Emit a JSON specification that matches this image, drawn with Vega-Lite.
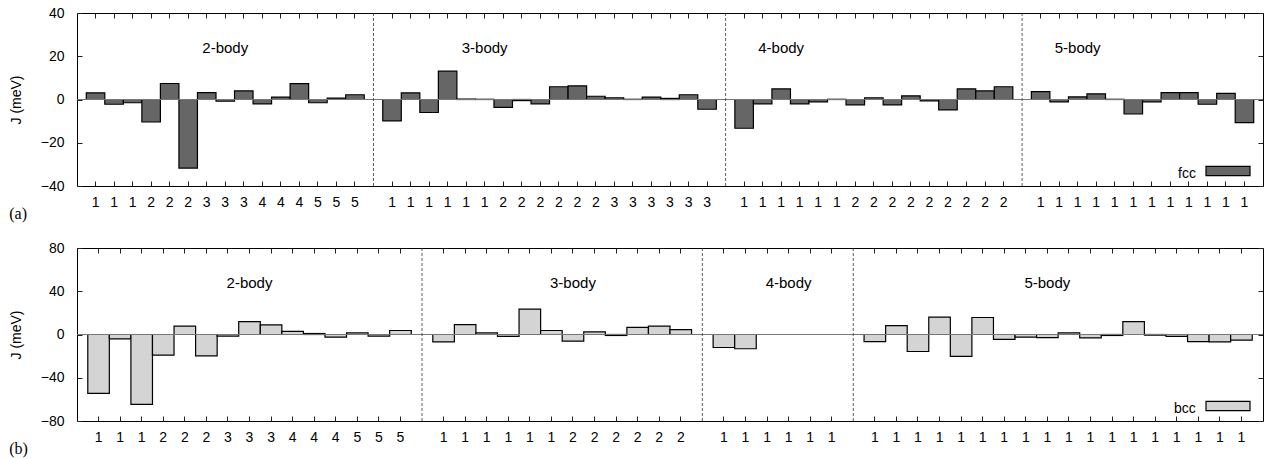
{
  "$schema": "https://vega.github.io/schema/vega-lite/v6.json",
  "padding": {"left": 8, "right": 1, "top": 5, "bottom": 0},
  "spacing": 17,
  "resolve": {"scale": {"color": "independent"}, "legend": {"color": "independent"}},
  "config": {
    "font": "Liberation Sans",
    "view": {"stroke": "black", "strokeWidth": 1},
    "axis": {"labelFontSize": 14, "labelColor": "black", "titleFontSize": 14, "titleFontWeight": "normal", "titleColor": "black", "tickColor": "#222222", "tickWidth": 1, "domain": false, "grid": false, "tickSize": 5, "offset": -5, "titlePadding": 17},
    "axisX": {"labelPadding": 9},
    "axisY": {"labelPadding": 13},
    "legend": {"titleFontSize": 14, "titleFontWeight": "normal", "titleColor": "black"}
  },
  "datasets": {
    "fcc": [
      {"slot":1,"order":1,"group":"2-body","lattice":"fcc","J":3.1},
      {"slot":2,"order":1,"group":"2-body","lattice":"fcc","J":-2.2},
      {"slot":3,"order":1,"group":"2-body","lattice":"fcc","J":-1.5},
      {"slot":4,"order":2,"group":"2-body","lattice":"fcc","J":-10.4},
      {"slot":5,"order":2,"group":"2-body","lattice":"fcc","J":7.4},
      {"slot":6,"order":2,"group":"2-body","lattice":"fcc","J":-31.7},
      {"slot":7,"order":3,"group":"2-body","lattice":"fcc","J":3.2},
      {"slot":8,"order":3,"group":"2-body","lattice":"fcc","J":-0.8},
      {"slot":9,"order":3,"group":"2-body","lattice":"fcc","J":4.0},
      {"slot":10,"order":4,"group":"2-body","lattice":"fcc","J":-2.0},
      {"slot":11,"order":4,"group":"2-body","lattice":"fcc","J":1.1},
      {"slot":12,"order":4,"group":"2-body","lattice":"fcc","J":7.3},
      {"slot":13,"order":5,"group":"2-body","lattice":"fcc","J":-1.5},
      {"slot":14,"order":5,"group":"2-body","lattice":"fcc","J":0.6},
      {"slot":15,"order":5,"group":"2-body","lattice":"fcc","J":2.2},
      {"slot":17,"order":1,"group":"3-body","lattice":"fcc","J":-9.9},
      {"slot":18,"order":1,"group":"3-body","lattice":"fcc","J":3.1},
      {"slot":19,"order":1,"group":"3-body","lattice":"fcc","J":-6.0},
      {"slot":20,"order":1,"group":"3-body","lattice":"fcc","J":13.1},
      {"slot":21,"order":1,"group":"3-body","lattice":"fcc","J":0.2},
      {"slot":22,"order":1,"group":"3-body","lattice":"fcc","J":0.1},
      {"slot":23,"order":2,"group":"3-body","lattice":"fcc","J":-3.6},
      {"slot":24,"order":2,"group":"3-body","lattice":"fcc","J":-0.5},
      {"slot":25,"order":2,"group":"3-body","lattice":"fcc","J":-2.0},
      {"slot":26,"order":2,"group":"3-body","lattice":"fcc","J":5.9},
      {"slot":27,"order":2,"group":"3-body","lattice":"fcc","J":6.3},
      {"slot":28,"order":2,"group":"3-body","lattice":"fcc","J":1.5},
      {"slot":29,"order":3,"group":"3-body","lattice":"fcc","J":0.8},
      {"slot":30,"order":3,"group":"3-body","lattice":"fcc","J":0.1},
      {"slot":31,"order":3,"group":"3-body","lattice":"fcc","J":1.1},
      {"slot":32,"order":3,"group":"3-body","lattice":"fcc","J":0.5},
      {"slot":33,"order":3,"group":"3-body","lattice":"fcc","J":2.2},
      {"slot":34,"order":3,"group":"3-body","lattice":"fcc","J":-4.5},
      {"slot":36,"order":1,"group":"4-body","lattice":"fcc","J":-13.3},
      {"slot":37,"order":1,"group":"4-body","lattice":"fcc","J":-2.0},
      {"slot":38,"order":1,"group":"4-body","lattice":"fcc","J":4.9},
      {"slot":39,"order":1,"group":"4-body","lattice":"fcc","J":-2.0},
      {"slot":40,"order":1,"group":"4-body","lattice":"fcc","J":-1.1},
      {"slot":41,"order":1,"group":"4-body","lattice":"fcc","J":0.1},
      {"slot":42,"order":2,"group":"4-body","lattice":"fcc","J":-2.5},
      {"slot":43,"order":2,"group":"4-body","lattice":"fcc","J":0.8},
      {"slot":44,"order":2,"group":"4-body","lattice":"fcc","J":-2.5},
      {"slot":45,"order":2,"group":"4-body","lattice":"fcc","J":1.7},
      {"slot":46,"order":2,"group":"4-body","lattice":"fcc","J":-0.6},
      {"slot":47,"order":2,"group":"4-body","lattice":"fcc","J":-4.8},
      {"slot":48,"order":2,"group":"4-body","lattice":"fcc","J":4.9},
      {"slot":49,"order":2,"group":"4-body","lattice":"fcc","J":4.0},
      {"slot":50,"order":2,"group":"4-body","lattice":"fcc","J":5.9},
      {"slot":52,"order":1,"group":"5-body","lattice":"fcc","J":3.6},
      {"slot":53,"order":1,"group":"5-body","lattice":"fcc","J":-1.1},
      {"slot":54,"order":1,"group":"5-body","lattice":"fcc","J":1.2},
      {"slot":55,"order":1,"group":"5-body","lattice":"fcc","J":2.6},
      {"slot":56,"order":1,"group":"5-body","lattice":"fcc","J":0.1},
      {"slot":57,"order":1,"group":"5-body","lattice":"fcc","J":-6.7},
      {"slot":58,"order":1,"group":"5-body","lattice":"fcc","J":-1.1},
      {"slot":59,"order":1,"group":"5-body","lattice":"fcc","J":3.2},
      {"slot":60,"order":1,"group":"5-body","lattice":"fcc","J":3.2},
      {"slot":61,"order":1,"group":"5-body","lattice":"fcc","J":-2.2},
      {"slot":62,"order":1,"group":"5-body","lattice":"fcc","J":2.8},
      {"slot":63,"order":1,"group":"5-body","lattice":"fcc","J":-10.7}
    ],
    "bcc": [
      {"slot":1,"order":1,"group":"2-body","lattice":"bcc","J":-54.5},
      {"slot":2,"order":1,"group":"2-body","lattice":"bcc","J":-4.0},
      {"slot":3,"order":1,"group":"2-body","lattice":"bcc","J":-64.6},
      {"slot":4,"order":2,"group":"2-body","lattice":"bcc","J":-19.1},
      {"slot":5,"order":2,"group":"2-body","lattice":"bcc","J":7.7},
      {"slot":6,"order":2,"group":"2-body","lattice":"bcc","J":-19.7},
      {"slot":7,"order":3,"group":"2-body","lattice":"bcc","J":-1.5},
      {"slot":8,"order":3,"group":"2-body","lattice":"bcc","J":12.0},
      {"slot":9,"order":3,"group":"2-body","lattice":"bcc","J":8.9},
      {"slot":10,"order":4,"group":"2-body","lattice":"bcc","J":2.8},
      {"slot":11,"order":4,"group":"2-body","lattice":"bcc","J":0.9},
      {"slot":12,"order":4,"group":"2-body","lattice":"bcc","J":-2.5},
      {"slot":13,"order":5,"group":"2-body","lattice":"bcc","J":1.5},
      {"slot":14,"order":5,"group":"2-body","lattice":"bcc","J":-1.5},
      {"slot":15,"order":5,"group":"2-body","lattice":"bcc","J":3.7},
      {"slot":17,"order":1,"group":"3-body","lattice":"bcc","J":-6.8},
      {"slot":18,"order":1,"group":"3-body","lattice":"bcc","J":9.2},
      {"slot":19,"order":1,"group":"3-body","lattice":"bcc","J":1.5},
      {"slot":20,"order":1,"group":"3-body","lattice":"bcc","J":-1.8},
      {"slot":21,"order":1,"group":"3-body","lattice":"bcc","J":23.4},
      {"slot":22,"order":1,"group":"3-body","lattice":"bcc","J":3.7},
      {"slot":23,"order":2,"group":"3-body","lattice":"bcc","J":-6.2},
      {"slot":24,"order":2,"group":"3-body","lattice":"bcc","J":2.5},
      {"slot":25,"order":2,"group":"3-body","lattice":"bcc","J":-0.9},
      {"slot":26,"order":2,"group":"3-body","lattice":"bcc","J":6.5},
      {"slot":27,"order":2,"group":"3-body","lattice":"bcc","J":7.7},
      {"slot":28,"order":2,"group":"3-body","lattice":"bcc","J":4.6},
      {"slot":30,"order":1,"group":"4-body","lattice":"bcc","J":-12.0},
      {"slot":31,"order":1,"group":"4-body","lattice":"bcc","J":-13.2},
      {"slot":32,"order":1,"group":"4-body","lattice":"bcc","J":0},
      {"slot":33,"order":1,"group":"4-body","lattice":"bcc","J":0},
      {"slot":34,"order":1,"group":"4-body","lattice":"bcc","J":0},
      {"slot":35,"order":1,"group":"4-body","lattice":"bcc","J":0},
      {"slot":37,"order":1,"group":"5-body","lattice":"bcc","J":-6.5},
      {"slot":38,"order":1,"group":"5-body","lattice":"bcc","J":8.3},
      {"slot":39,"order":1,"group":"5-body","lattice":"bcc","J":-15.7},
      {"slot":40,"order":1,"group":"5-body","lattice":"bcc","J":16.0},
      {"slot":41,"order":1,"group":"5-body","lattice":"bcc","J":-20.3},
      {"slot":42,"order":1,"group":"5-body","lattice":"bcc","J":15.7},
      {"slot":43,"order":1,"group":"5-body","lattice":"bcc","J":-4.6},
      {"slot":44,"order":1,"group":"5-body","lattice":"bcc","J":-2.5},
      {"slot":45,"order":1,"group":"5-body","lattice":"bcc","J":-2.8},
      {"slot":46,"order":1,"group":"5-body","lattice":"bcc","J":1.5},
      {"slot":47,"order":1,"group":"5-body","lattice":"bcc","J":-3.1},
      {"slot":48,"order":1,"group":"5-body","lattice":"bcc","J":-0.9},
      {"slot":49,"order":1,"group":"5-body","lattice":"bcc","J":12.0},
      {"slot":50,"order":1,"group":"5-body","lattice":"bcc","J":-0.6},
      {"slot":51,"order":1,"group":"5-body","lattice":"bcc","J":-1.8},
      {"slot":52,"order":1,"group":"5-body","lattice":"bcc","J":-6.5},
      {"slot":53,"order":1,"group":"5-body","lattice":"bcc","J":-6.8},
      {"slot":54,"order":1,"group":"5-body","lattice":"bcc","J":-5.2}
    ],
    "sepA": [{"slot":16},{"slot":35},{"slot":51}],
    "sepB": [{"slot":16},{"slot":29},{"slot":36}],
    "groupsA": [
      {"slot":8,"y":24,"group":"2-body"},
      {"slot":22,"y":24,"group":"3-body"},
      {"slot":38,"y":24,"group":"4-body"},
      {"slot":54,"y":24,"group":"5-body"}
    ],
    "groupsB": [
      {"slot":8,"y":48,"group":"2-body"},
      {"slot":23,"y":48,"group":"3-body"},
      {"slot":33,"y":48,"group":"4-body"},
      {"slot":45,"y":48,"group":"5-body"}
    ]
  },
  "vconcat": [
    {
      "width": 1186,
      "height": 173,
      "title": {"text": "(a)", "orient": "bottom", "anchor": "start", "frame": "bounds", "font": "Liberation Serif", "fontSize": 16, "fontWeight": "normal", "offset": -3},
      "layer": [
        {
          "data": {"name": "fcc"},
          "mark": {"type": "bar", "stroke": "black", "strokeWidth": 1.2},
          "encoding": {
            "x": {"field": "slot", "type": "ordinal",
              "scale": {"domain": [1,2,3,4,5,6,7,8,9,10,11,12,13,14,15,16,17,18,19,20,21,22,23,24,25,26,27,28,29,30,31,32,33,34,35,36,37,38,39,40,41,42,43,44,45,46,47,48,49,50,51,52,53,54,55,56,57,58,59,60,61,62,63], "paddingInner": 0, "paddingOuter": 0.5},
              "axis": {"orient": "bottom", "title": null, "labelAngle": 0,
                "values": [1,2,3,4,5,6,7,8,9,10,11,12,13,14,15,17,18,19,20,21,22,23,24,25,26,27,28,29,30,31,32,33,34,36,37,38,39,40,41,42,43,44,45,46,47,48,49,50,52,53,54,55,56,57,58,59,60,61,62,63],
                "labelExpr": "substring('0111222333444555_111111222222333333_111111222222222_111111111111', datum.value, datum.value + 1)"}},
            "y": {"field": "J", "type": "quantitative", "scale": {"domain": [-40, 40], "nice": false},
              "axis": {"orient": "left", "values": [-40, -20, 0, 20, 40], "title": "J (meV)"}},
            "color": {"field": "lattice", "type": "nominal", "scale": {"domain": ["fcc"], "range": ["#666666"]},
              "legend": {"orient": "bottom-right", "title": "fcc", "titleOrient": "left", "titleBaseline": "line-top", "titleLineHeight": 22, "labelExpr": "''", "labelOffset": 7, "symbolType": "M-1,-0.21H1V0.21H-1Z", "symbolSize": 1936, "symbolStrokeColor": "black", "symbolStrokeWidth": 1.2, "offset": 5, "titlePadding": 9}}
          }
        },
        {
          "data": {"values": [{}]},
          "mark": {"type": "rule", "color": "#777777", "strokeWidth": 1},
          "encoding": {
            "y": {"datum": 0, "type": "quantitative", "axis": {"orient": "right", "values": [-40, -20, 0, 20, 40], "labels": false, "title": null}}
          }
        },
        {
          "data": {"name": "sepA"},
          "mark": {"type": "rule", "color": "#333333", "strokeDash": [3, 2], "strokeWidth": 0.8},
          "encoding": {
            "x": {"field": "slot", "type": "ordinal",
              "scale": {"domain": [1,2,3,4,5,6,7,8,9,10,11,12,13,14,15,16,17,18,19,20,21,22,23,24,25,26,27,28,29,30,31,32,33,34,35,36,37,38,39,40,41,42,43,44,45,46,47,48,49,50,51,52,53,54,55,56,57,58,59,60,61,62,63], "paddingInner": 0, "paddingOuter": 0.5},
              "axis": {"orient": "top", "title": null, "labels": false,
                "values": [1,2,3,4,5,6,7,8,9,10,11,12,13,14,15,17,18,19,20,21,22,23,24,25,26,27,28,29,30,31,32,33,34,36,37,38,39,40,41,42,43,44,45,46,47,48,49,50,52,53,54,55,56,57,58,59,60,61,62,63]}}
          }
        },
        {
          "data": {"name": "groupsA"},
          "mark": {"type": "text", "fontSize": 15, "color": "black"},
          "encoding": {
            "x": {"field": "slot", "type": "ordinal", "axis": null,
              "scale": {"domain": [1,2,3,4,5,6,7,8,9,10,11,12,13,14,15,16,17,18,19,20,21,22,23,24,25,26,27,28,29,30,31,32,33,34,35,36,37,38,39,40,41,42,43,44,45,46,47,48,49,50,51,52,53,54,55,56,57,58,59,60,61,62,63], "paddingInner": 0, "paddingOuter": 0.5}},
            "y": {"field": "y", "type": "quantitative", "axis": null},
            "text": {"field": "group"}
          }
        }
      ],
      "resolve": {"axis": {"x": "independent", "y": "independent"}}
    },
    {
      "width": 1186,
      "height": 173,
      "title": {"text": "(b)", "orient": "bottom", "anchor": "start", "frame": "bounds", "font": "Liberation Serif", "fontSize": 16, "fontWeight": "normal", "offset": -3},
      "layer": [
        {
          "data": {"name": "bcc"},
          "mark": {"type": "bar", "stroke": "black", "strokeWidth": 1.2},
          "encoding": {
            "x": {"field": "slot", "type": "ordinal",
              "scale": {"domain": [1,2,3,4,5,6,7,8,9,10,11,12,13,14,15,16,17,18,19,20,21,22,23,24,25,26,27,28,29,30,31,32,33,34,35,36,37,38,39,40,41,42,43,44,45,46,47,48,49,50,51,52,53,54], "paddingInner": 0, "paddingOuter": 0.5},
              "axis": {"orient": "bottom", "title": null, "labelAngle": 0,
                "values": [1,2,3,4,5,6,7,8,9,10,11,12,13,14,15,17,18,19,20,21,22,23,24,25,26,27,28,30,31,32,33,34,35,37,38,39,40,41,42,43,44,45,46,47,48,49,50,51,52,53,54],
                "labelExpr": "substring('0111222333444555_111111222222_111111_111111111111111111', datum.value, datum.value + 1)"}},
            "y": {"field": "J", "type": "quantitative", "scale": {"domain": [-80, 80], "nice": false},
              "axis": {"orient": "left", "values": [-80, -40, 0, 40, 80], "title": "J (meV)"}},
            "color": {"field": "lattice", "type": "nominal", "scale": {"domain": ["bcc"], "range": ["#d4d4d4"]},
              "legend": {"orient": "bottom-right", "title": "bcc", "titleOrient": "left", "titleBaseline": "line-top", "titleLineHeight": 22, "labelExpr": "''", "labelOffset": 7, "symbolType": "M-1,-0.21H1V0.21H-1Z", "symbolSize": 1936, "symbolStrokeColor": "black", "symbolStrokeWidth": 1.2, "offset": 5, "titlePadding": 9}}
          }
        },
        {
          "data": {"values": [{}]},
          "mark": {"type": "rule", "color": "#777777", "strokeWidth": 1},
          "encoding": {
            "y": {"datum": 0, "type": "quantitative", "axis": {"orient": "right", "values": [-80, -40, 0, 40, 80], "labels": false, "title": null}}
          }
        },
        {
          "data": {"name": "sepB"},
          "mark": {"type": "rule", "color": "#333333", "strokeDash": [3, 2], "strokeWidth": 0.8},
          "encoding": {
            "x": {"field": "slot", "type": "ordinal",
              "scale": {"domain": [1,2,3,4,5,6,7,8,9,10,11,12,13,14,15,16,17,18,19,20,21,22,23,24,25,26,27,28,29,30,31,32,33,34,35,36,37,38,39,40,41,42,43,44,45,46,47,48,49,50,51,52,53,54], "paddingInner": 0, "paddingOuter": 0.5},
              "axis": {"orient": "top", "title": null, "labels": false,
                "values": [1,2,3,4,5,6,7,8,9,10,11,12,13,14,15,17,18,19,20,21,22,23,24,25,26,27,28,30,31,32,33,34,35,37,38,39,40,41,42,43,44,45,46,47,48,49,50,51,52,53,54]}}
          }
        },
        {
          "data": {"name": "groupsB"},
          "mark": {"type": "text", "fontSize": 15, "color": "black"},
          "encoding": {
            "x": {"field": "slot", "type": "ordinal", "axis": null,
              "scale": {"domain": [1,2,3,4,5,6,7,8,9,10,11,12,13,14,15,16,17,18,19,20,21,22,23,24,25,26,27,28,29,30,31,32,33,34,35,36,37,38,39,40,41,42,43,44,45,46,47,48,49,50,51,52,53,54], "paddingInner": 0, "paddingOuter": 0.5}},
            "y": {"field": "y", "type": "quantitative", "axis": null},
            "text": {"field": "group"}
          }
        }
      ],
      "resolve": {"axis": {"x": "independent", "y": "independent"}}
    }
  ]
}
